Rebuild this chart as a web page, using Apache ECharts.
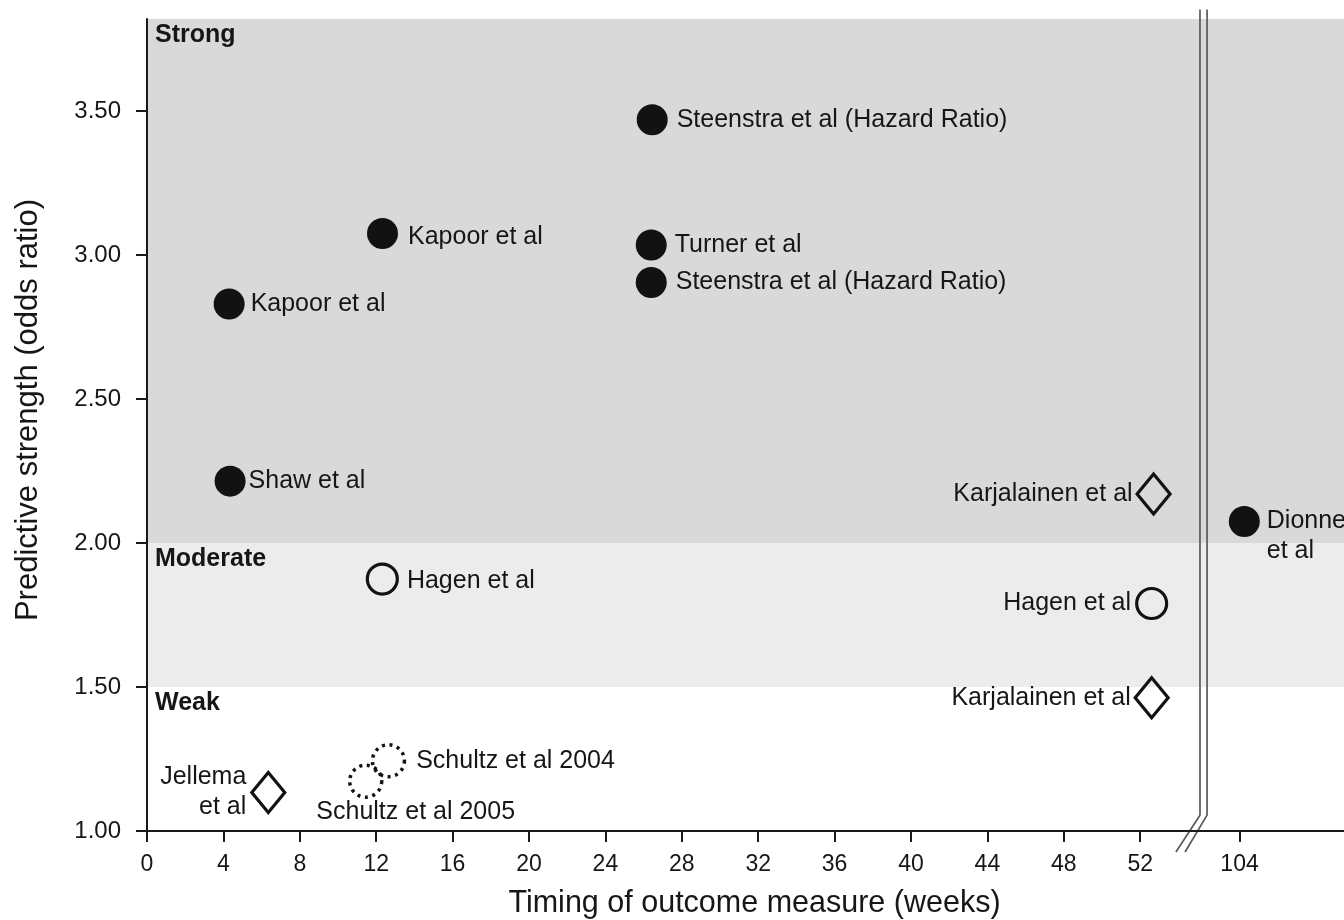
<!DOCTYPE html>
<html><head><meta charset="utf-8">
<script src="https://cdn.jsdelivr.net/npm/echarts@6/dist/echarts.min.js"></script>
<style>html,body{margin:0;padding:0;background:#fff}#c{width:1344px;height:920px}</style>
</head><body><div id="c"></div>
<script>
// ---- data ----
const studies = [
  'Steenstra et al (Hazard Ratio)', 'Kapoor et al', 'Turner et al', 'Steenstra et al (Hazard Ratio)',
  'Kapoor et al', 'Shaw et al', 'Hagen et al', 'Karjalainen et al', 'Dionne\net al',
  'Hagen et al', 'Karjalainen et al', 'Jellema\net al', 'Schultz et al 2004', 'Schultz et al 2005'
];
const weeks = [26.45, 12.33, 26.4, 26.4, 4.3, 4.35, 12.32, 52.7, 104.25, 52.6, 52.6, 6.35, 12.64, 11.45];
const oddsRatios = [3.47, 3.075, 3.035, 2.905, 2.83, 2.215, 1.875, 2.17, 2.075, 1.79, 1.463, 1.134, 1.244, 1.173];
const markerKind = ['filled','filled','filled','filled','filled','filled','open','diamond','filled','open','diamond','diamond','dotted','dotted'];
const xTickWeeks = [0,4,8,12,16,20,24,28,32,36,40,44,48,52,104];
const yTicks = [1.0, 1.5, 2.0, 2.5, 3.0, 3.5];
const bandNames = ['Strong', 'Moderate', 'Weak'];
const bandLower = [2.0, 1.5, 1.0];

// ---- axis break handling (weeks > 52 are drawn after a break) ----
const X_MAX = 62.67, Y_MIN = 1.0, Y_MAX = 3.82;
const AFTER_BREAK_POS = 57.2;   // axis position where week 104 is drawn
function weekToPos(w) { return w <= 56 ? w : AFTER_BREAK_POS + (w - 104); }
function posToWeek(p) { return p <= 56 ? p : Math.round(104 + (p - AFTER_BREAK_POS)); }

// ---- label placement (style, not data) ----
const labelPlace = [
  {position:'right', distance:9}, {position:'right', distance:10, offset:[0,4]}, {position:'right', distance:8},
  {position:'right', distance:9}, {position:'right', distance:6}, {position:'right', distance:3},
  {position:'right', distance:8, offset:[0,2]}, {position:'left', distance:3}, {position:'right', distance:7, offset:[0,15], lineHeight:30},
  {position:'left', distance:4}, {position:'left', distance:3}, {position:'left', distance:4, lineHeight:30, align:'right'},
  {position:'right', distance:10}, {position:'inside', offset:[50,31]}
];

const FONT = '"Liberation Sans", Arial, Helvetica, sans-serif';
const INK = '#161616';

const markerStyle = {
  filled: {symbol:'circle', symbolSize:31, itemStyle:{color:'#121212', opacity:1}},
  open: {symbol:'circle', symbolSize:30, itemStyle:{color:'rgba(0,0,0,0)', borderColor:'#121212', borderWidth:3.2, opacity:1}},
  diamond: {symbol:'diamond', symbolSize:[33,40], itemStyle:{color:'rgba(0,0,0,0)', borderColor:'#121212', borderWidth:3.2, borderJoin:'miter', opacity:1}},
  dotted: {symbol:'circle', symbolSize:32, itemStyle:{color:'rgba(0,0,0,0)', borderColor:'#121212', borderWidth:3.5, borderType:[3,4.6], opacity:1}}
};

const scatterSeries = Object.keys(markerStyle).map(kind => {
  const data = [];
  studies.forEach((s, i) => {
    if (markerKind[i] !== kind) return;
    const lp = labelPlace[i];
    data.push({
      name: s,
      value: [weekToPos(weeks[i]), oddsRatios[i]],
      label: Object.assign({show:true, formatter:'{b}', color:INK, fontSize:25, fontFamily:FONT}, lp)
    });
  });
  return Object.assign({type:'scatter', name:kind, data:data, z:5}, markerStyle[kind]);
});

// break indicator lines (two parallel lines with a slanted foot)
const breakX = [55.13, 55.5], footX = [53.87, 54.35];
const breakSeries = breakX.map((bx, k) => ({
  type:'line', symbol:'none', clip:false, silent:true, z:4,
  lineStyle:{color:'#5a5a5a', width:1.7},
  data:[[bx, 3.853], [bx, 1.055], [footX[k], 0.927]]
}));

const bandColors = ['#d9d9d9', '#ececec', 'rgba(255,255,255,0)'];
const bandUpper = [Y_MAX, bandLower[0], bandLower[1]];
breakSeries[0].markArea = {
  silent:true,
  data: bandNames.map((n, i) => [
    {name:n, yAxis:bandLower[i], itemStyle:{color:bandColors[i]},
     label:{show:true, position:'insideTopLeft', distance:4, offset:[4,0], color:INK, fontWeight:'bold', fontSize:25, fontFamily:FONT}},
    {yAxis:bandUpper[i]}
  ])
};

const chart = echarts.init(document.getElementById('c'));
chart.setOption({
  animation:false,
  backgroundColor:'#fff',
  grid:{left:147, right:0, top:19, bottom:89, outerBoundsMode:'none', containLabel:false},
  xAxis:{
    type:'value', min:0, max:X_MAX, z:10,
    name:'Timing of outcome measure (weeks)', nameLocation:'middle', nameGap:57,
    nameTextStyle:{fontSize:30.5, color:INK, fontFamily:FONT, padding:[0,0,0,18]},
    axisLine:{show:true, onZero:false, lineStyle:{color:'#1a1a1a', width:2}},
    axisTick:{show:true, length:11, lineStyle:{color:'#1a1a1a', width:2}, customValues:xTickWeeks.map(weekToPos)},
    axisLabel:{color:INK, fontSize:23, fontFamily:FONT, margin:22, customValues:xTickWeeks.map(weekToPos),
      formatter:v => String(posToWeek(v))},
    splitLine:{show:false}
  },
  yAxis:{
    type:'value', min:Y_MIN, max:Y_MAX, z:10,
    name:'Predictive strength (odds ratio)', nameLocation:'middle', nameGap:103,
    nameTextStyle:{fontSize:31, color:INK, fontFamily:FONT, padding:[0,0,0,30]},
    axisLine:{show:true, lineStyle:{color:'#1a1a1a', width:2}},
    axisTick:{show:true, length:11, lineStyle:{color:'#1a1a1a', width:2}, customValues:yTicks},
    axisLabel:{color:INK, fontSize:24, fontFamily:FONT, margin:26, customValues:yTicks,
      formatter:v => v.toFixed(2)},
    splitLine:{show:false}
  },
  series: breakSeries.concat(scatterSeries)
});
</script></body></html>
